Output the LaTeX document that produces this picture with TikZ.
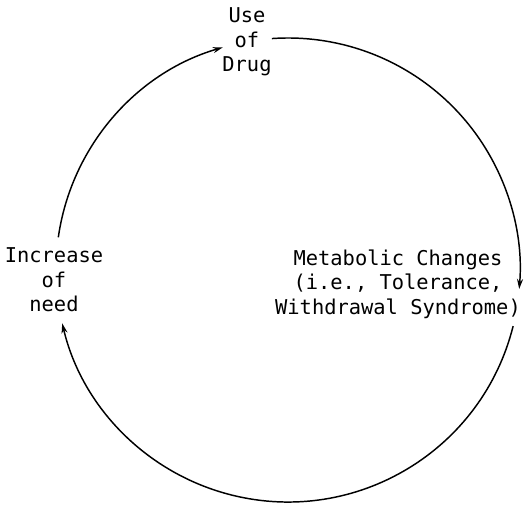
\documentclass[tikz,border=0pt]{standalone}
\usepackage{fontspec}
\newfontfamily\cyclefont{DejaVu Sans Mono}
\usetikzlibrary{arrows.meta}
\begin{document}
\begin{tikzpicture}[x=0.75pt,y=0.75pt,
  cyclelabel/.style={align=center,inner sep=0pt,
    font=\cyclefont\fontsize{15.3}{18.4}\selectfont},
  cyclearc/.style={line width=1.1pt,-{Stealth[length=7.5pt,width=4.5pt]}}]
\useasboundingbox (0,0) rectangle (526,507);
% centre of the cycle
\coordinate (c) at (288,237);
% labels
\node[cyclelabel] (use) at (247,465) {Use\\of\\Drug};
\node[cyclelabel] (meta) at (398,223) {Metabolic Changes\\(i.e., Tolerance,\\Withdrawal Syndrome)};
\node[cyclelabel] (need) at (54,227) {Increase\\of\\need};
% arc end points
\path (c) ++(94:232) coordinate (a1);
\path (c) ++(-14:232) coordinate (a2);
\path (c) ++(171.9:232) coordinate (a3);
% arcs of the cycle
\draw[cyclearc] (a1) arc[start angle=94, end angle=-4.7, radius=232];
\draw[cyclearc] (a2) arc[start angle=-14, end angle=-166.7, radius=232];
\draw[cyclearc] (a3) arc[start angle=171.9, end angle=106.3, radius=232];
\end{tikzpicture}
\end{document}
